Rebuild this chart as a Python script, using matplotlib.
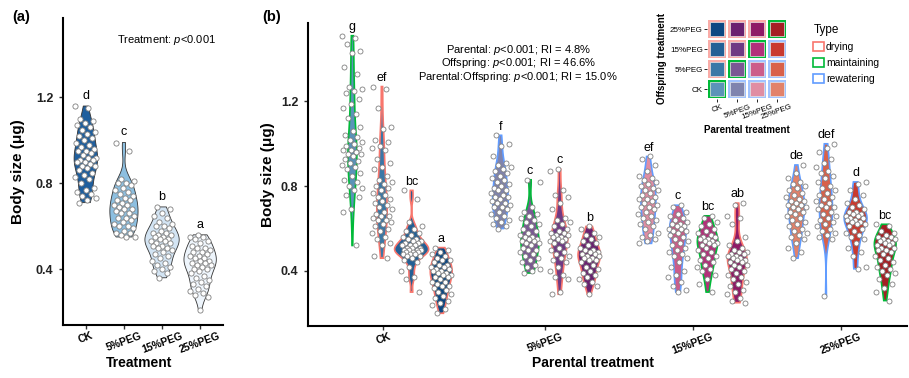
import numpy as np
import matplotlib.pyplot as plt
from matplotlib.patches import Rectangle, Patch

plt.rcParams['font.family'] = ['Liberation Sans', 'DejaVu Sans']
plt.rcParams['mathtext.fontset'] = 'custom'
plt.rcParams['mathtext.rm'] = 'Liberation Sans'
plt.rcParams['mathtext.it'] = 'Liberation Sans:italic'

treatments = ['CK', '5%PEG', '15%PEG', '25%PEG']
type_names = ['drying', 'maintaining', 'rewatering']
type_colors = {'drying': '#F8766D', 'maintaining': '#00BA38', 'rewatering': '#619CFF'}

# ---- panel (a): body size by treatment
a_ck = [1.16, 1.15, 1.10, 1.09, 1.08, 1.07, 1.06, 1.05, 1.04, 1.03, 1.02, 1.01, 1.00, 0.99, 0.98,
        0.97, 0.96, 0.95, 0.95, 0.94, 0.93, 0.92, 0.92, 0.91, 0.91, 0.90, 0.90, 0.89, 0.88, 0.88,
        0.87, 0.86, 0.85, 0.84, 0.83, 0.82, 0.80, 0.78, 0.77, 0.76, 0.75, 0.74, 0.73, 0.72, 0.71]
a_5 = [0.99, 0.95, 0.82, 0.81, 0.80, 0.80, 0.79, 0.78, 0.77, 0.76, 0.75, 0.74, 0.73, 0.72, 0.72,
       0.71, 0.70, 0.70, 0.69, 0.68, 0.68, 0.67, 0.66, 0.66, 0.65, 0.64, 0.64, 0.63, 0.62, 0.61,
       0.60, 0.60, 0.59, 0.58, 0.57, 0.57, 0.56, 0.55, 0.55]
a_15 = [0.69, 0.68, 0.66, 0.65, 0.64, 0.62, 0.61, 0.60, 0.60, 0.59, 0.58, 0.57, 0.57, 0.56, 0.56,
        0.55, 0.55, 0.54, 0.54, 0.53, 0.53, 0.52, 0.52, 0.51, 0.51, 0.50, 0.50, 0.49, 0.48, 0.47,
        0.46, 0.45, 0.44, 0.43, 0.42, 0.41, 0.40, 0.39, 0.38, 0.36]
a_25 = [0.56, 0.55, 0.55, 0.54, 0.53, 0.52, 0.51, 0.50, 0.50, 0.49, 0.48, 0.48, 0.47, 0.46, 0.46,
        0.45, 0.45, 0.44, 0.44, 0.43, 0.43, 0.42, 0.42, 0.41, 0.40, 0.40, 0.39, 0.38, 0.37, 0.36,
        0.35, 0.34, 0.33, 0.32, 0.31, 0.30, 0.29, 0.28, 0.27, 0.21]
a_fills = ['#1f5f9e', '#8dbfe0', '#d3e4f3', '#eef5fc']
a_letters = ['d', 'c', 'b', 'a']

# ---- panel (b): parental x offspring (names: b_<parental>_<offspring>)
b_ck_ck = [1.51, 1.50, 1.47, 1.44, 1.43, 1.36, 1.33, 1.27, 1.26, 1.25, 1.24, 1.21, 1.19, 1.17, 1.14,
           1.12, 1.08, 1.06, 1.04, 1.03, 1.02, 1.01, 1.00, 0.99, 0.98, 0.97, 0.97, 0.96, 0.95, 0.95,
           0.94, 0.93, 0.92, 0.91, 0.90, 0.89, 0.88, 0.86, 0.85, 0.83, 0.82, 0.80, 0.79, 0.78, 0.76,
           0.75, 0.69, 0.68, 0.52]
b_ck_5 = [1.27, 1.26, 1.17, 1.08, 1.07, 1.02, 1.01, 0.99, 0.98, 0.97, 0.93, 0.91, 0.89, 0.88, 0.85,
          0.83, 0.82, 0.81, 0.80, 0.79, 0.78, 0.77, 0.76, 0.75, 0.74, 0.73, 0.72, 0.71, 0.70, 0.69,
          0.68, 0.67, 0.66, 0.66, 0.65, 0.64, 0.64, 0.63, 0.62, 0.61, 0.60, 0.59, 0.58, 0.56, 0.55,
          0.53, 0.52, 0.47, 0.46]
b_ck_15 = [0.78, 0.74, 0.63, 0.61, 0.60, 0.59, 0.58, 0.57, 0.56, 0.55, 0.55, 0.54, 0.54, 0.53, 0.53,
           0.52, 0.52, 0.52, 0.51, 0.51, 0.51, 0.50, 0.50, 0.50, 0.50, 0.49, 0.49, 0.49, 0.48, 0.48,
           0.48, 0.47, 0.47, 0.46, 0.45, 0.44, 0.42, 0.40, 0.37, 0.36, 0.30]
b_ck_25 = [0.51, 0.50, 0.49, 0.48, 0.47, 0.46, 0.45, 0.45, 0.44, 0.43, 0.43, 0.42, 0.42, 0.41, 0.41,
           0.40, 0.40, 0.39, 0.39, 0.38, 0.38, 0.37, 0.37, 0.36, 0.35, 0.35, 0.34, 0.33, 0.33, 0.32,
           0.31, 0.30, 0.29, 0.28, 0.27, 0.26, 0.25, 0.24, 0.22, 0.20]
b_5_ck = [1.04, 1.00, 0.99, 0.94, 0.91, 0.90, 0.89, 0.88, 0.87, 0.86, 0.85, 0.84, 0.83, 0.82, 0.81,
          0.80, 0.79, 0.78, 0.78, 0.77, 0.76, 0.75, 0.75, 0.74, 0.73, 0.72, 0.72, 0.71, 0.70, 0.70,
          0.69, 0.68, 0.67, 0.66, 0.65, 0.64, 0.63, 0.62, 0.61, 0.60]
b_5_5 = [0.83, 0.82, 0.70, 0.68, 0.67, 0.66, 0.65, 0.64, 0.63, 0.62, 0.61, 0.60, 0.59, 0.58, 0.57,
         0.56, 0.56, 0.55, 0.55, 0.54, 0.54, 0.53, 0.53, 0.52, 0.51, 0.50, 0.50, 0.49, 0.48, 0.47,
         0.46, 0.45, 0.44, 0.43, 0.42, 0.41, 0.40, 0.39]
b_5_15 = [0.88, 0.87, 0.78, 0.76, 0.75, 0.72, 0.69, 0.65, 0.64, 0.63, 0.62, 0.61, 0.60, 0.59, 0.58,
          0.58, 0.57, 0.57, 0.56, 0.56, 0.55, 0.55, 0.54, 0.54, 0.53, 0.52, 0.51, 0.50, 0.49, 0.48,
          0.47, 0.46, 0.45, 0.44, 0.42, 0.40, 0.38, 0.37, 0.36, 0.30, 0.29]
b_5_25 = [0.61, 0.60, 0.58, 0.57, 0.56, 0.55, 0.54, 0.53, 0.52, 0.51, 0.50, 0.50, 0.49, 0.49, 0.48,
          0.48, 0.47, 0.47, 0.46, 0.46, 0.45, 0.45, 0.44, 0.43, 0.42, 0.41, 0.40, 0.39, 0.38, 0.37,
          0.36, 0.35, 0.34, 0.33, 0.29]
b_15_ck = [0.94, 0.93, 0.90, 0.87, 0.85, 0.84, 0.83, 0.82, 0.81, 0.80, 0.79, 0.78, 0.78, 0.77, 0.76,
           0.75, 0.74, 0.74, 0.73, 0.72, 0.71, 0.70, 0.70, 0.69, 0.68, 0.67, 0.66, 0.65, 0.64, 0.63,
           0.62, 0.61, 0.60, 0.58, 0.57, 0.56, 0.55, 0.54, 0.53]
b_15_5 = [0.71, 0.70, 0.68, 0.67, 0.66, 0.65, 0.64, 0.63, 0.62, 0.62, 0.61, 0.61, 0.60, 0.60, 0.59,
          0.59, 0.58, 0.57, 0.56, 0.55, 0.54, 0.53, 0.52, 0.51, 0.50, 0.49, 0.48, 0.47, 0.46, 0.44,
          0.42, 0.40, 0.38, 0.37, 0.35, 0.33, 0.31, 0.30]
b_15_15 = [0.66, 0.65, 0.63, 0.62, 0.61, 0.60, 0.59, 0.58, 0.57, 0.56, 0.56, 0.55, 0.55, 0.54, 0.54,
           0.53, 0.53, 0.52, 0.52, 0.51, 0.50, 0.49, 0.48, 0.47, 0.46, 0.45, 0.44, 0.43, 0.42, 0.41,
           0.40, 0.38, 0.36, 0.34, 0.30]
b_15_25 = [0.72, 0.71, 0.66, 0.65, 0.62, 0.56, 0.54, 0.52, 0.51, 0.50, 0.49, 0.49, 0.48, 0.48, 0.47,
           0.47, 0.46, 0.46, 0.45, 0.45, 0.44, 0.44, 0.43, 0.43, 0.42, 0.41, 0.40, 0.39, 0.38, 0.37,
           0.36, 0.35, 0.34, 0.33, 0.31, 0.30, 0.29, 0.27, 0.26, 0.25]
b_25_ck = [0.90, 0.86, 0.84, 0.82, 0.81, 0.80, 0.79, 0.78, 0.77, 0.76, 0.75, 0.74, 0.73, 0.73, 0.72,
           0.71, 0.71, 0.70, 0.70, 0.69, 0.68, 0.68, 0.67, 0.66, 0.65, 0.64, 0.63, 0.62, 0.61, 0.60,
           0.59, 0.58, 0.57, 0.56, 0.55, 0.53, 0.51, 0.49, 0.46]
b_25_5 = [1.00, 0.98, 0.96, 0.93, 0.91, 0.89, 0.87, 0.86, 0.85, 0.84, 0.82, 0.80, 0.79, 0.78, 0.77,
          0.76, 0.75, 0.74, 0.73, 0.72, 0.71, 0.70, 0.70, 0.69, 0.68, 0.67, 0.66, 0.65, 0.64, 0.63,
          0.62, 0.61, 0.60, 0.59, 0.58, 0.57, 0.56, 0.55, 0.28]
b_25_15 = [0.82, 0.81, 0.78, 0.76, 0.74, 0.72, 0.71, 0.70, 0.69, 0.68, 0.68, 0.67, 0.67, 0.66, 0.66,
           0.65, 0.65, 0.64, 0.64, 0.63, 0.63, 0.62, 0.62, 0.61, 0.60, 0.59, 0.58, 0.57, 0.56, 0.55,
           0.53, 0.51, 0.49, 0.47, 0.42, 0.41]
b_25_25 = [0.62, 0.61, 0.59, 0.58, 0.57, 0.56, 0.56, 0.55, 0.55, 0.54, 0.54, 0.53, 0.53, 0.52, 0.52,
           0.51, 0.51, 0.50, 0.50, 0.49, 0.48, 0.47, 0.46, 0.45, 0.44, 0.43, 0.42, 0.41, 0.40, 0.39,
           0.38, 0.36, 0.34, 0.32, 0.30, 0.26]

b_values = [[b_ck_ck, b_ck_5, b_ck_15, b_ck_25],
            [b_5_ck, b_5_5, b_5_15, b_5_25],
            [b_15_ck, b_15_5, b_15_15, b_15_25],
            [b_25_ck, b_25_5, b_25_15, b_25_25]]
b_letters = [['g', 'ef', 'bc', 'a'],
             ['f', 'c', 'c', 'b'],
             ['ef', 'c', 'bc', 'ab'],
             ['de', 'def', 'd', 'bc']]
# fill colour [parental][offspring]
b_fills = [['#5b93b9', '#3b78a7', '#236096', '#0c4783'],
           ['#8084ae', '#7a5894', '#6f3a84', '#6a2170'],
           ['#e08ea3', '#cc5d8a', '#b3307a', '#8f1a66'],
           ['#e2826a', '#d9614a', '#c93a2f', '#a51f24']]


def type_of(p, o):
    if o == p:
        return 'maintaining'
    return 'drying' if o > p else 'rewatering'


def kde(v, grid):
    v = np.asarray(v)
    n = len(v)
    q75, q25 = np.percentile(v, [75, 25])
    bw = 0.9 * min(v.std(ddof=1), (q75 - q25) / 1.34) * n ** -0.2
    z = (grid[:, None] - v[None, :]) / bw
    return np.exp(-0.5 * z ** 2).sum(1) / (n * bw * np.sqrt(2 * np.pi))


def jitter(n, w, shift):
    return ((np.arange(n) * 0.618034 + shift) % 1 - 0.5) * 2 * w


def draw_violin(ax, x, vals, scale, fc, ec, lw):
    grid = np.linspace(min(vals), max(vals), 200)
    d = kde(vals, grid) * scale
    ax.fill(np.concatenate([x - d, (x + d)[::-1]]), np.concatenate([grid, grid[::-1]]),
            fc=fc, ec=ec, lw=lw, zorder=2)


def style_axes(ax):
    for s in ['top', 'right']:
        ax.spines[s].set_visible(False)
    for s in ['left', 'bottom']:
        ax.spines[s].set_linewidth(1.5)
    ax.set_ylim(0.14, 1.57)
    ax.set_yticks([0.4, 0.8, 1.2])
    ax.set_yticklabels(['0.4', '0.8', '1.2'], fontsize=9, fontweight='bold', color='#222222')
    ax.tick_params(axis='both', length=3, width=1, color='#333333')
    ax.tick_params(axis='y', pad=4)
    ax.tick_params(axis='x', pad=1)
    ax.set_ylabel('Body size (μg)', fontsize=11, fontweight='bold')


fig = plt.figure(figsize=(9.09, 3.78), dpi=100)
W, H = 909, 378

# ---------- panel (a)
ax1 = fig.add_axes([63 / W, 1 - 325 / H, 160 / W, 307 / H])
a_values = [a_ck, a_5, a_15, a_25]
maxd = max(kde(v, np.linspace(min(v), max(v), 200)).max() for v in a_values)
for i, v in enumerate(a_values):
    x = i + 1
    draw_violin(ax1, x, v, 0.45 / maxd, a_fills[i], '#333333', 0.6)
    ax1.scatter(x + jitter(len(v), 0.28, 0.13 * i), v, s=14, fc='white', ec='#808080',
                lw=0.6, zorder=3)
    ax1.annotate(a_letters[i], (x, max(v)), xytext=(0, 3), textcoords='offset points',
                 ha='center', va='bottom', fontsize=9)
ax1.set_xlim(0.4, 4.6)
ax1.set_xticks([1, 2, 3, 4])
ax1.set_xticklabels(treatments, rotation=20, fontsize=7.5, fontweight='bold', ha='center')
style_axes(ax1)
ax1.yaxis.set_label_coords(-0.24, 0.5)
ax1.set_xlabel('Treatment', fontsize=10, fontweight='bold')
ax1.xaxis.set_label_coords(0.475, -0.101)
ax1.text(0.644, 0.928, 'Treatment: $\\it{p}$<0.001', transform=ax1.transAxes,
         ha='center', va='center', fontsize=8)

# ---------- panel (b)
ax2 = fig.add_axes([308 / W, 1 - 326 / H, 599 / W, 303 / H])
offsets = [-0.3, -0.1, 0.1, 0.3]
maxd = max(kde(v, np.linspace(min(v), max(v), 200)).max() for row in b_values for v in row)
for p in range(4):
    for o in range(4):
        v = b_values[p][o]
        x = p + 1 + offsets[o]
        draw_violin(ax2, x, v, 0.115 / maxd, b_fills[p][o], type_colors[type_of(p, o)], 1.2)
        ax2.scatter(x + jitter(len(v), 0.07, 0.07 * (p * 4 + o)), v, s=13, fc='white',
                    ec='#808080', lw=0.6, zorder=3)
        ax2.annotate(b_letters[p][o], (x, max(v)), xytext=(0, 2), textcoords='offset points',
                     ha='center', va='bottom', fontsize=9)
ax2.set_xlim(0.4, 0.4 + 599 / 148)
ax2.set_xticks([0.91, 2, 3, 4])
ax2.set_xticklabels(treatments, rotation=20, fontsize=7.5, fontweight='bold', ha='center')
style_axes(ax2)
ax2.yaxis.set_label_coords(-0.055, 0.5)
ax2.set_xlabel('Parental treatment', fontsize=10, fontweight='bold')
ax2.xaxis.set_label_coords(0.476, -0.099)
b_stats = ['Parental: $\\it{p}$<0.001; RI = 4.8%',
           'Offspring: $\\it{p}$<0.001; RI = 46.6%',
           'Parental:Offspring: $\\it{p}$<0.001; RI = 15.0%']
for txt, yy in zip(b_stats, [50, 63, 77]):
    ax2.text(0.351, (326 - yy) / 303, txt, transform=ax2.transAxes, ha='center',
             va='center', fontsize=8)

fig.text(12 / W, 1 - 17 / H, '(a)', fontsize=10.5, fontweight='bold', va='center')
fig.text(262 / W, 1 - 17 / H, '(b)', fontsize=10.5, fontweight='bold', va='center')

# ---------- inset heatmap
ax3 = fig.add_axes([707 / W, 1 - 99 / H, 80 / W, 80 / H])
for p in range(4):
    for o in range(4):
        tc = type_colors[type_of(p, o)]
        ax3.add_patch(Rectangle((p - 0.47, o - 0.47), 0.94, 0.94, fc=tc,
                                alpha=1 if p == o else 0.6, lw=0))
        ax3.add_patch(Rectangle((p - 0.36, o - 0.36), 0.72, 0.72, fc=b_fills[p][o],
                                ec='#e8e8e8', lw=0.5))
ax3.set_xlim(-0.5, 3.5)
ax3.set_ylim(-0.5, 3.5)
for s in ax3.spines.values():
    s.set_visible(False)
ax3.set_xticks(range(4))
ax3.set_yticks(range(4))
ax3.set_xticklabels(treatments, rotation=20, fontsize=5.8)
ax3.set_yticklabels(treatments, fontsize=5.8)
ax3.tick_params(length=2, width=0.6, pad=1)
ax3.set_xlabel('Parental treatment', fontsize=7, fontweight='bold', labelpad=3)
ax3.set_ylabel('Offspring treatment', fontsize=7, fontweight='bold', labelpad=2)

handles = [Patch(fc='white', ec=type_colors[t], lw=1.2) for t in type_names]
fig.legend(handles, type_names, title='Type', loc='upper left',
           bbox_to_anchor=(806 / W, 1 - 17 / H), frameon=False, fontsize=7.5,
           title_fontsize=8.5, handlelength=1.0, handleheight=1.0, handletextpad=0.2,
           labelspacing=0.55, alignment='left', borderpad=0.2)

fig.savefig('out.png', dpi=100)
